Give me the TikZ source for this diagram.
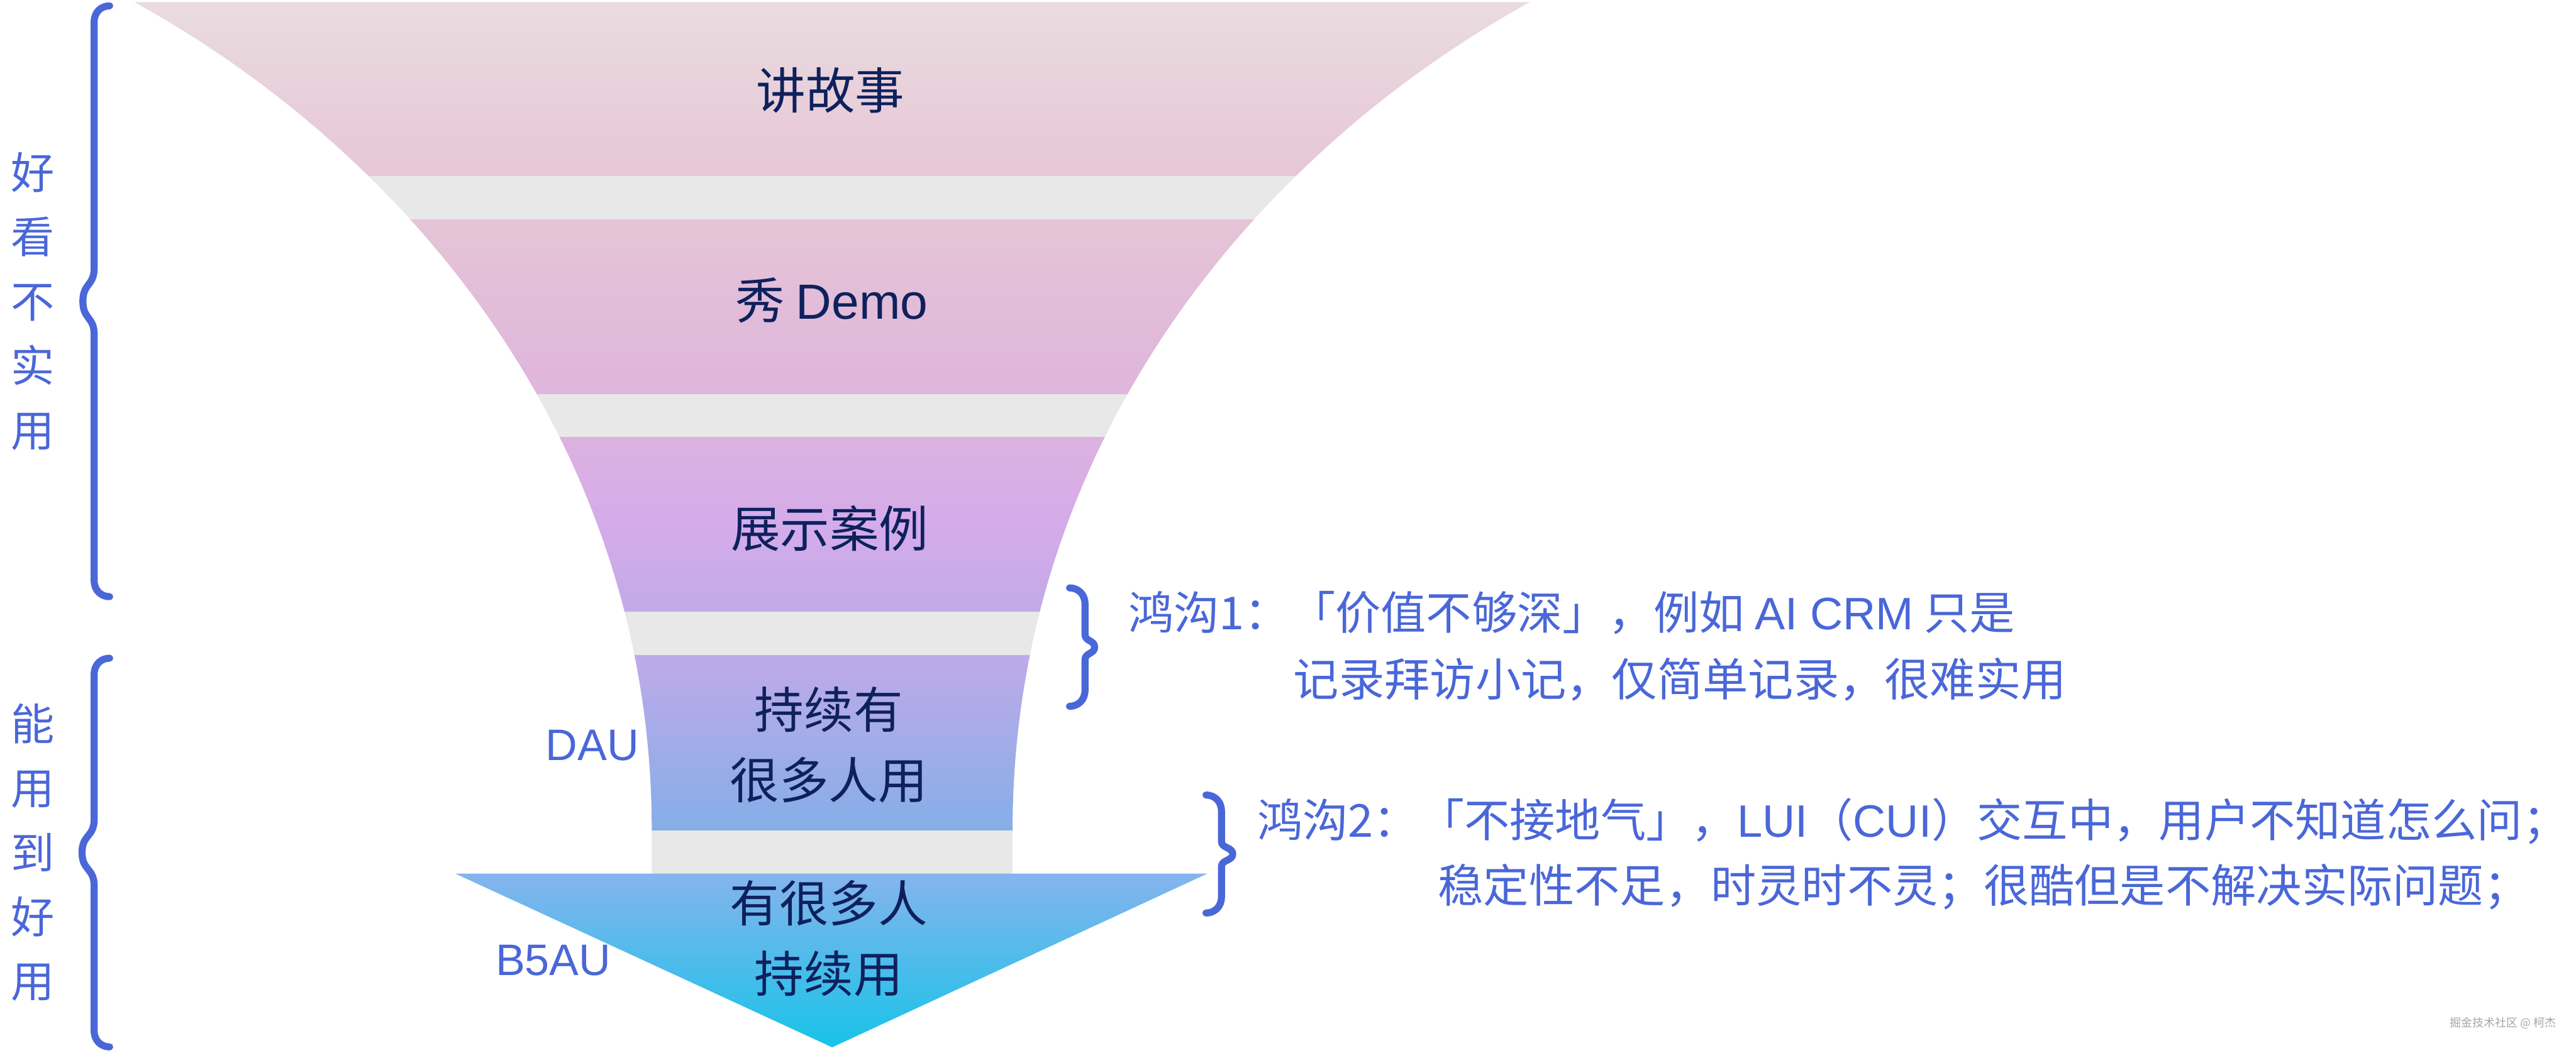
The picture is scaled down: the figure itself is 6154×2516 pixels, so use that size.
\documentclass[tikz,border=0pt]{standalone}
\usepackage{fontspec}
\setmainfont{Noto Sans CJK SC}
\newfontfamily\latinfont{Liberation Sans}

% colours of the funnel bands
\definecolor{bandTopA}{RGB}{233,220,223}
\definecolor{bandBotA}{RGB}{231,198,214}
\definecolor{bandTopB}{RGB}{229,196,214}
\definecolor{bandBotB}{RGB}{223,181,220}
\definecolor{bandTopC}{RGB}{220,178,224}
\definecolor{bandMidC}{RGB}{213,171,234}
\definecolor{bandBotC}{RGB}{195,170,232}
\definecolor{bandTopD}{RGB}{191,170,232}
\definecolor{bandBotD}{RGB}{133,174,232}
\definecolor{triTop}{RGB}{133,180,237}
\definecolor{triBot}{RGB}{24,195,233}
\definecolor{gapGray}{RGB}{232,232,232}
\definecolor{inkNavy}{RGB}{14,33,92}
\definecolor{braceBlue}{RGB}{74,103,216}
\definecolor{markGray}{RGB}{165,165,165}

\tikzset{
  stageTxt/.style={text=inkNavy, font=\fontsize{16.8pt}{23.8pt}\selectfont, align=center, inner sep=0pt},
  phaseTxt/.style={text=braceBlue, font=\fontsize{14.8pt}{21.9pt}\selectfont, align=center, inner sep=0pt},
  metricTxt/.style={text=braceBlue, font=\latinfont\fontsize{15pt}{18pt}\selectfont, anchor=east, inner sep=0pt},
  gapTxt/.style={text=braceBlue, font=\fontsize{15.45pt}{20pt}\selectfont, anchor=west, inner sep=0pt},
  braceline/.style={draw=braceBlue, line width=2.4pt, line cap=round, line join=round},
}

% curly brace: ends x, top y, bottom y, line shift, tip shift, tip half length
\newcommand{\gapbrace}[6]{%
  \draw[braceline] (#1,#2)
    .. controls ({#1+0.55*(#4)},#2) and ({#1+(#4)},{#2+15}) .. ({#1+(#4)},{#2+38})
    -- ({#1+(#4)},{(#2+#3)/2-(#6)})
    .. controls ({#1+(#4)},{(#2+#3)/2-0.45*(#6)}) and ({#1+(#5)},{(#2+#3)/2-0.55*(#6)}) .. ({#1+(#5)},{(#2+#3)/2})
    .. controls ({#1+(#5)},{(#2+#3)/2+0.55*(#6)}) and ({#1+(#4)},{(#2+#3)/2+0.45*(#6)}) .. ({#1+(#4)},{(#2+#3)/2+(#6)})
    -- ({#1+(#4)},{#3-38})
    .. controls ({#1+(#4)},{#3-15}) and ({#1+0.55*(#4)},#3) .. (#1,#3);
}

\begin{document}
\begin{tikzpicture}
% funnel of user stages, laid out in reference pixels
\def\pxsz{0.05mm}
\begin{scope}[x=\pxsz, y=-\pxsz, line cap=round, line join=round]
  \useasboundingbox (0,0) rectangle (6154,2516);
  % Funnel body: bands and gaps clipped to the curved outline
  \begin{scope}
    \clip (321,5) .. controls (1000,380) and (1557,1084) .. (1557,1984)
      -- (1557,2090) -- (2419,2090) -- (2419,1984)
      .. controls (2419,1084) and (2976,380) .. (3655,5) -- cycle;
    \shade[top color=bandTopA, bottom color=bandBotA] (300,0) rectangle (3700,422);
    \fill[gapGray] (300,421) rectangle (3700,526);
    \shade[top color=bandTopB, bottom color=bandBotB] (300,525) rectangle (3700,943);
    \fill[gapGray] (300,942) rectangle (3700,1046);
    \shade[top color=bandTopC, bottom color=bandMidC] (300,1045) rectangle (3700,1251);
    \shade[top color=bandMidC, bottom color=bandBotC] (300,1250) rectangle (3700,1463);
    \fill[gapGray] (300,1462) rectangle (3700,1567);
    \shade[top color=bandTopD, bottom color=bandBotD] (300,1566) rectangle (3700,1985);
    \fill[gapGray] (300,1984) rectangle (3700,2089);
  \end{scope}
  % Arrow head at the bottom
  \shade[top color=triTop, bottom color=triBot] (1088,2088) -- (2884,2088) -- (1988,2503) -- cycle;

  % Stage labels
  \node[stageTxt] (storyTxt) at (1984,216) {讲故事};
  \node[stageTxt] (demoTxt) at (1987,718) {秀 {\latinfont Demo}};
  \node[stageTxt] (caseTxt) at (1982,1263) {展示案例};
  \node[stageTxt] (dauTxt) at (1980,1780) {持续有\\很多人用};
  \node[stageTxt] (b5auTxt) at (1980,2243) {有很多人\\持续用};

  % Metric labels
  \node[metricTxt] (dauLbl) at (1528,1781) {DAU};
  \node[metricTxt] (b5auLbl) at (1461,2296) {B5AU};

  % Phase labels with braces
  \node[phaseTxt] (lookLbl) at (78,720) {好\\看\\不\\实\\用};
  \node[phaseTxt] (useLbl) at (79,2037) {能\\用\\到\\好\\用};
  \gapbrace{262}{14}{1426}{-37}{-64}{80}
  \gapbrace{262}{1573}{2502}{-37}{-66}{80}

  % Gap notes
  \gapbrace{2555}{1405}{1688}{37}{60}{30}
  \gapbrace{2881}{1900}{2182}{37}{64}{30}
  \node[gapTxt] (gapOneA) at (2694,1465) {鸿沟1：「价值不够深」，例如 {\latinfont AI CRM} 只是};
  \node[gapTxt] (gapOneB) at (3089,1624) {记录拜访小记，仅简单记录，很难实用};
  \node[gapTxt] (gapTwoA) at (3002,1962) {鸿沟2：「不接地气」，{\latinfont LUI}（{\latinfont CUI}）交互中，用户不知道怎么问；};
  \node[gapTxt] (gapTwoB) at (3434,2120) {稳定性不足，时灵时不灵；很酷但是不解决实际问题；};

  % Watermark
  \node[text=markGray, font=\fontsize{3.85pt}{5pt}\selectfont, inner sep=0pt] (markTxt) at (5980,2445) {掘金技术社区 @ 柯杰};
\end{scope}
\end{tikzpicture}
\end{document}
